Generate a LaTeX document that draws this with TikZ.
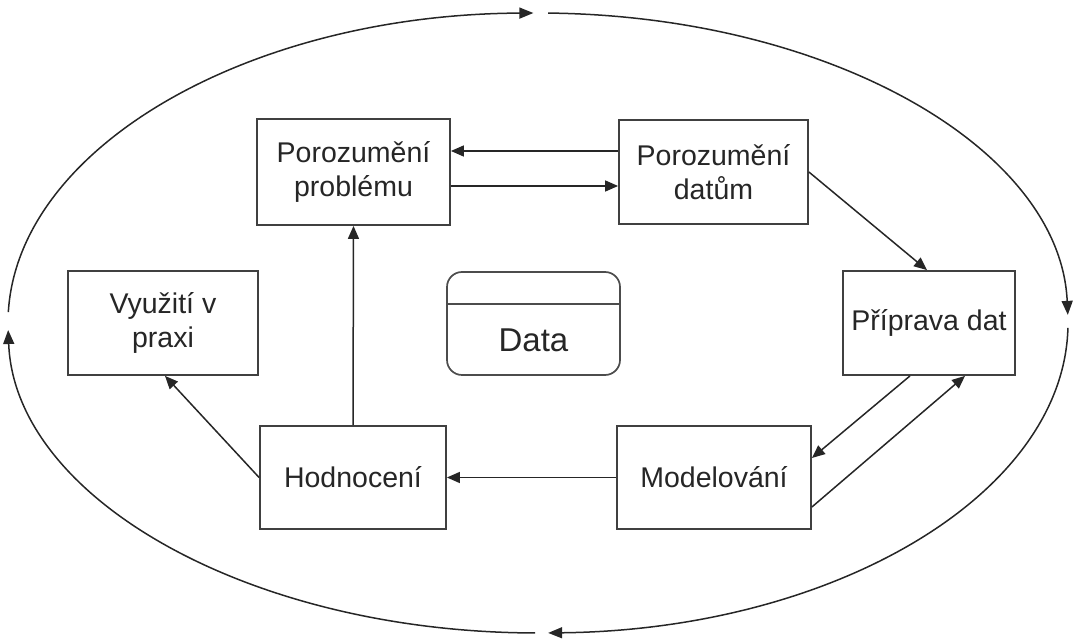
\documentclass[tikz,border=0pt]{standalone}
\usepackage{fontspec}
\setmainfont{Liberation Sans}
\usetikzlibrary{arrows.meta}
\begin{document}
\begin{tikzpicture}[x=1pt,y=1pt,
  box/.style={draw=black!75, line width=1.8pt, fill=white, align=center,
    text=black!85, inner sep=0pt, font=\fontsize{28.5}{34}\selectfont},
  datab/.style={draw=black!70, line width=1.7pt, rounded corners=15pt,
    minimum width=173pt, minimum height=103pt, inner sep=0pt},
  arr/.style={draw=black!85, line width=1.5pt, -{Triangle[length=13pt,width=11pt]}},
  ring/.style={draw=black!85, line width=1.5pt, -{Triangle[length=14pt,width=11pt]}}]
\useasboundingbox (0,0) rectangle (1074,640);

% outer cycle
\coordinate (E) at (538,317);
\draw[ring] ([shift={(178:530pt and 310pt)}]E) arc[start angle=178, end angle=90.5, x radius=530pt, y radius=310pt];
\draw[ring] ([shift={(88.9:530pt and 310pt)}]E) arc[start angle=88.9, end angle=1.5, x radius=530pt, y radius=310pt];
\draw[ring] ([shift={(-0.9:530pt and 310pt)}]E) arc[start angle=-0.9, end angle=-88.9, x radius=530pt, y radius=310pt];
\draw[ring] ([shift={(269.7:530pt and 310pt)}]E) arc[start angle=269.7, end angle=181.3, x radius=530pt, y radius=310pt];

% process steps
\node[box, minimum width=193pt, minimum height=106pt] (PP) at (353.5,468) {Porozumění\\problému};
\node[box, minimum width=189pt, minimum height=104pt] (PD) at (713.5,468) {Porozumění\\datům};
\node[box, minimum width=172pt, minimum height=104pt] (PR) at (929,317) {Příprava dat};
\node[box, minimum width=194pt, minimum height=103pt] (MO) at (714,162.5) {Modelování};
\node[box, minimum width=186pt, minimum height=103pt] (HO) at (353,162.5) {Hodnocení};
\node[box, minimum width=190pt, minimum height=104pt] (VP) at (163,317) {Využití v\\praxi};

% central data store
\node[datab] (D) at (533.5,316.5) {};
\draw[draw=black!70, line width=1.7pt] ([yshift=-33pt]D.north west) -- ([yshift=-33pt]D.north east);
\node[text=black!85, font=\fontsize{33}{40}\selectfont] (Dt) at (533.5,300) {Data};

% connectors
\draw[arr] ([yshift=21pt]PD.west) -- ([yshift=21pt]PP.east);
\draw[arr] ([yshift=-14pt]PP.east) -- ([yshift=-14pt]PD.west);
\draw[arr] (PD.east) -- ([xshift=-2pt]PR.north);
\draw[arr] ([xshift=-19pt]PR.south) -- ([yshift=19.5pt]MO.east);
\draw[arr] ([yshift=-29.5pt]MO.east) -- ([xshift=36pt]PR.south);
\draw[arr] (MO.west) -- (HO.east);
\draw[arr] (HO.north) -- (PP.south);
\draw[arr] (HO.west) -- ([xshift=2pt]VP.south);
\end{tikzpicture}
\end{document}
